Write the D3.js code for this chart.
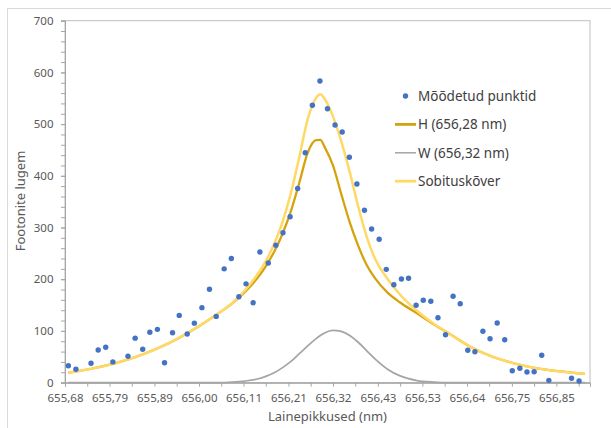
<!DOCTYPE html>
<html>
<head>
<meta charset="utf-8">
<script src="https://cdn.jsdelivr.net/npm/d3@7"></script>
<style>
  body { margin: 0; background: #fff; }
  svg { display: block; font-family: "Noto Sans", sans-serif; }
</style>
</head>
<body>
<script>
const width = 611;
const height = 428;

// Measured points (wavelength in nm, photon count)
const pointX = [655.690, 655.708, 655.744, 655.761, 655.779, 655.796, 655.832, 655.849, 655.867, 655.884,
    655.902, 655.919, 655.938, 655.954, 655.973, 655.990, 656.008, 656.026, 656.042, 656.061,
    656.078, 656.096, 656.113, 656.130, 656.146, 656.166, 656.184, 656.201, 656.218, 656.236,
    656.254, 656.271, 656.289, 656.307, 656.325, 656.342, 656.359, 656.377, 656.395, 656.412,
    656.430, 656.447, 656.465, 656.483, 656.500, 656.518, 656.535, 656.553, 656.570, 656.588,
    656.606, 656.623, 656.641, 656.658, 656.677, 656.694, 656.711, 656.729, 656.747, 656.765,
    656.782, 656.799, 656.817, 656.834, 656.888, 656.906];
const pointY = [32.7, 25.7, 37.3, 63, 68.3, 40, 51, 86, 64.4, 97.3,
    103, 38.5, 96.5, 130, 94, 115, 145, 180.5, 128, 220,
    240, 166, 191, 154.5, 252.6, 231.3, 265.6, 289.9, 320.9, 375.4,
    444.7, 536.4, 583.4, 529.8, 498.3, 484.7, 435.8, 384.1, 333.3, 297.1,
    277.2, 219.1, 189.4, 200.4, 201.7, 149.5, 159.2, 157.3, 125.5, 92.6,
    166.9, 152.6, 62.5, 59.8, 99.2, 84.9, 115.3, 83, 23, 27.7,
    20.5, 21.1, 52.8, 4.4, 8.3, 3.1];

// Curves at these wavelengths
const curveX = [655.69, 655.75, 655.80, 655.85, 655.90, 655.95, 656.00, 656.04, 656.08, 656.11,
    656.14, 656.16, 656.18, 656.20, 656.22, 656.24, 656.26, 656.28, 656.29, 656.30,
    656.32, 656.34, 656.36, 656.38, 656.40, 656.42, 656.45, 656.48, 656.52, 656.56,
    656.60, 656.65, 656.70, 656.75, 656.80, 656.85, 656.90, 656.92];
const curveH = [19.1, 27.8, 37.1, 49.6, 65.5, 85, 108.5, 130, 153, 175,
    202, 225, 253, 288, 332, 387, 445, 469, 469.5, 456,
    420, 364, 310, 265, 228, 202, 174, 155, 134, 113,
    93, 68, 50, 37.5, 28.5, 22.5, 18.3, 17];
const curveW = [0, 0, 0, 0, 0, 0, 0, 0, 1, 3,
    7, 12, 19, 29, 41, 56, 71, 85, 91, 96,
    101, 99, 91, 78, 62, 46, 26, 13, 4, 1,
    0, 0, 0, 0, 0, 0, 0, 0];
const curveFit = [19.1, 27.8, 37.1, 49.6, 65.5, 85, 108.5, 130, 154, 178,
    209, 235, 268, 311, 367, 437, 510, 551, 557.6, 549,
    515, 466, 407, 341, 283, 240, 200.5, 170, 139, 114,
    93, 68, 50, 37.5, 28.5, 22.5, 18.3, 17];

// Axis ticks
const xTicks = [655.682, 655.788, 655.895, 656.001, 656.107, 656.214, 656.320, 656.427, 656.533, 656.639, 656.746, 656.852];
const yTicks = [0, 100, 200, 300, 400, 500, 600, 700];

const legendLabels = ["Mõõdetud punktid", "H (656,28 nm)", "W (656,32 nm)", "Sobituskõver"];
const colors = { dots: "#4472C4", h: "#D4A20B", w: "#A5A5A5", fit: "#FFD966" };

const plot = { left: 65, right: 590, top: 20.7, bottom: 382.6 };

const x = d3.scaleLinear().domain([655.682, 656.932]).range([plot.left, plot.right]);
const y = d3.scaleLinear().domain([0, 700]).range([plot.bottom, plot.top]);

const svg = d3.select("body").append("svg")
    .attr("width", width)
    .attr("height", height);

// outer chart frame
svg.append("rect")
    .attr("x", 7.5).attr("y", 8.5)
    .attr("width", 700).attr("height", 500)
    .attr("fill", "#fff")
    .attr("stroke", "#d9d9d9");

// plot area box
svg.append("rect")
    .attr("x", plot.left).attr("y", plot.top)
    .attr("width", plot.right - plot.left).attr("height", plot.bottom - plot.top)
    .attr("fill", "none")
    .attr("stroke", "#bfbfbf");

// minor x ticks halfway between the labelled ones
const step = xTicks[1] - xTicks[0];
const xMinor = xTicks.map(v => v + step / 2);

const fmt = d3.format(".2f");
const styleAxis = g => {
    g.select(".domain").attr("stroke", "#a6a6a6");
    g.selectAll(".tick line").attr("stroke", "#a6a6a6");
    g.selectAll(".tick text").attr("fill", "#595959").attr("font-size", 11.5)
        .attr("font-family", "Noto Sans, sans-serif");
};

svg.append("g")
    .attr("transform", `translate(0,${plot.bottom})`)
    .call(d3.axisBottom(x).tickValues(xMinor).tickSize(4).tickFormat(""))
    .call(styleAxis);
svg.append("g")
    .attr("transform", `translate(0,${plot.bottom})`)
    .call(d3.axisBottom(x).tickValues(xTicks).tickSize(4).tickPadding(7.5)
        .tickFormat(d => fmt(d).replace(".", ",")))
    .call(styleAxis);

svg.append("g")
    .attr("transform", `translate(${plot.left},0)`)
    .call(d3.axisLeft(y).tickValues(d3.range(0, 701, 20)).tickSize(4).tickFormat(""))
    .call(styleAxis);
svg.append("g")
    .attr("transform", `translate(${plot.left},0)`)
    .call(d3.axisLeft(y).tickValues(yTicks).tickSize(4).tickPadding(7.5))
    .call(styleAxis);

// axis titles
svg.append("text")
    .attr("x", (plot.left + plot.right) / 2)
    .attr("y", 421)
    .attr("text-anchor", "middle")
    .attr("font-size", 13)
    .attr("fill", "#595959")
    .text("Lainepikkused (nm)");

svg.append("text")
    .attr("transform", "translate(25,201) rotate(-90)")
    .attr("text-anchor", "middle")
    .attr("font-size", 13)
    .attr("fill", "#595959")
    .text("Footonite lugem");

// curves
const line = vals => d3.line()
    .x((d, i) => x(curveX[i]))
    .y(d => y(d))
    .curve(d3.curveMonotoneX)(vals);

svg.append("path").attr("d", line(curveH))
    .attr("fill", "none").attr("stroke", colors.h).attr("stroke-width", 2.25);
svg.append("path").attr("d", line(curveW))
    .attr("fill", "none").attr("stroke", colors.w).attr("stroke-width", 1.75);
svg.append("path").attr("d", line(curveFit))
    .attr("fill", "none").attr("stroke", colors.fit).attr("stroke-width", 2.5);

// measured points
svg.selectAll(".pt")
    .data(pointX)
    .enter().append("circle")
    .attr("class", "pt")
    .attr("cx", d => x(d))
    .attr("cy", (d, i) => y(pointY[i]))
    .attr("r", 2.7)
    .attr("fill", colors.dots);

// legend
const legend = svg.append("g").attr("transform", "translate(395,96)");
legendLabels.forEach((label, i) => {
    const g = legend.append("g").attr("transform", `translate(0,${i * 28.4})`);
    if (i === 0) {
        g.append("circle").attr("cx", 10.5).attr("cy", 0).attr("r", 2.7).attr("fill", colors.dots);
    } else {
        const c = [null, colors.h, colors.w, colors.fit][i];
        const w = [0, 2.75, 1.5, 2.75][i];
        g.append("line").attr("x1", 0).attr("x2", 21).attr("y1", 0).attr("y2", 0)
            .attr("stroke", c).attr("stroke-width", w);
    }
    g.append("text")
        .attr("x", 23).attr("y", 0).attr("dy", "0.35em")
        .attr("font-size", 13.5)
        .attr("fill", "#404040")
        .text(label);
});
</script>
</body>
</html>
